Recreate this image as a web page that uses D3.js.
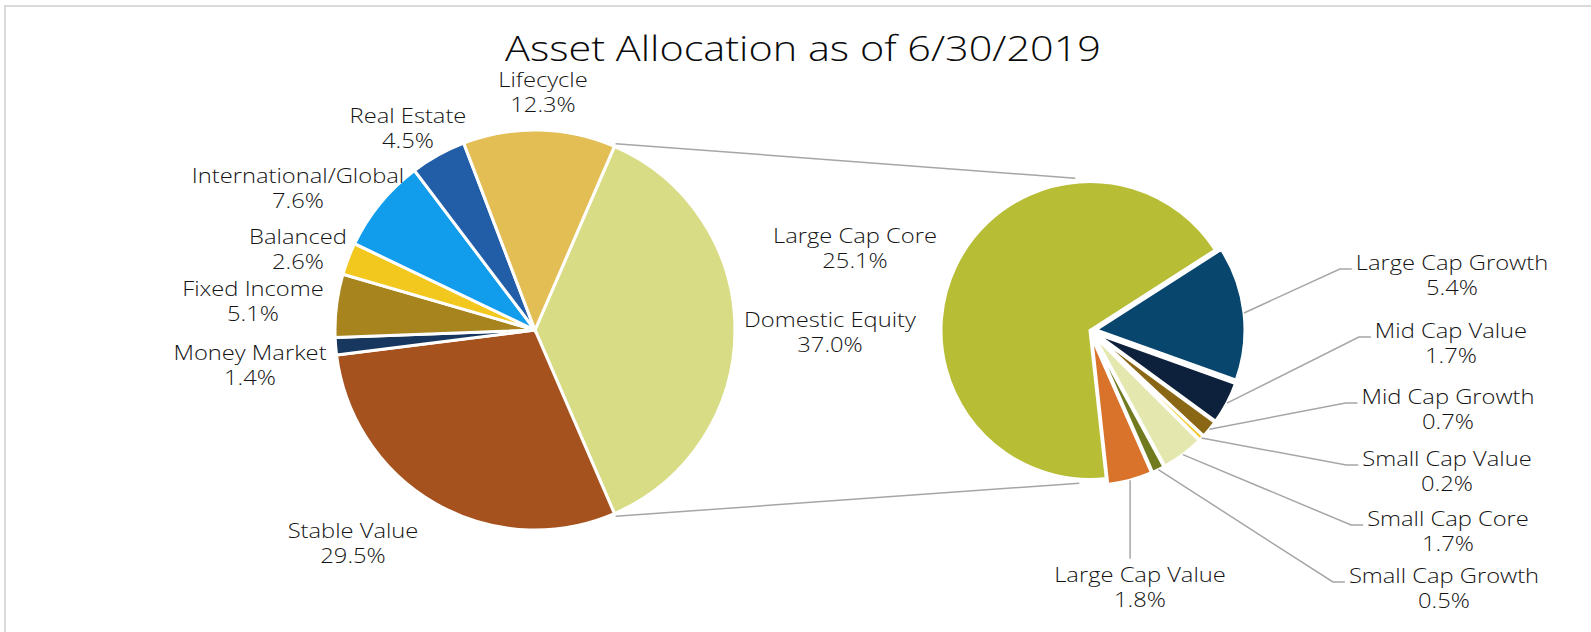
<!DOCTYPE html>
<html>
<head>
<meta charset="utf-8">
<script src="https://cdn.jsdelivr.net/npm/d3@7"></script>
<style>
  html, body { margin: 0; padding: 0; background: #fff; overflow: hidden; }
  svg { display: block; }
  text { font-family: "Open Sans", sans-serif; font-weight: 350; fill: #141414; }
  .title { font-weight: 300; fill: #0a0a0a; }
</style>
</head>
<body>
<svg id="chart" width="1591" height="632"></svg>
<script>
const title = "Asset Allocation as of 6/30/2019";

// first pie, clockwise from the split slice
const mainNames = ["Domestic Equity", "Stable Value", "Money Market", "Fixed Income",
  "Balanced", "International/Global", "Real Estate", "Lifecycle"];
const mainValues = [37.0, 29.5, 1.4, 5.1, 2.6, 7.6, 4.5, 12.3];
const mainColors = ["#d8dc84", "#a5521e", "#17375e", "#a8841e",
  "#f2c81f", "#129cec", "#225ea8", "#e3be55"];

// second pie = Domestic Equity broken out
const subNames = ["Large Cap Growth", "Mid Cap Value", "Mid Cap Growth", "Small Cap Value",
  "Small Cap Core", "Small Cap Growth", "Large Cap Value", "Large Cap Core"];
const subValues = [5.4, 1.7, 0.7, 0.2, 1.7, 0.5, 1.8, 25.1];
const subColors = ["#08466e", "#0d213c", "#8a6714", "#f2c61f",
  "#e5e8ae", "#717a1e", "#d9732c", "#b7bd35"];

// label anchors: centre x, baseline of first line, leader type
const labelAt = {
  "Lifecycle": [543, 87],
  "Real Estate": [408, 123],
  "International/Global": [298, 183],
  "Balanced": [298, 244],
  "Fixed Income": [253, 296],
  "Money Market": [250, 360],
  "Stable Value": [353, 538],
  "Domestic Equity": [830, 327],
  "Large Cap Core": [855, 243],
  "Large Cap Growth": [1452, 270, "left"],
  "Mid Cap Value": [1451, 338, "left"],
  "Mid Cap Growth": [1448, 404, "left"],
  "Small Cap Value": [1447, 466, "left"],
  "Small Cap Core": [1448, 526, "left"],
  "Small Cap Growth": [1444, 583, "left"],
  "Large Cap Value": [1140, 582, "top"]
};

const svg = d3.select("#chart");
const rad = deg => deg * Math.PI / 180;

// outer frame
svg.append("rect")
  .attr("x", 5).attr("y", 6).attr("width", 1700).attr("height", 700)
  .attr("fill", "none").attr("stroke", "#d9d9d9").attr("stroke-width", 2);

// the original face is wider, so stretch text to its widths
const labelSize = 20.5, titleSize = 35;
const probe = svg.append("text").style("font-size", labelSize + "px").text("Large Cap Core");
const labelSx = 164 / probe.node().getComputedTextLength();
probe.attr("class", "title").style("font-size", titleSize + "px").text(title);
const titleSx = 596 / probe.node().getComputedTextLength();
probe.remove();

svg.append("text")
  .attr("class", "title")
  .attr("transform", `translate(803,61) scale(${titleSx},1)`)
  .attr("text-anchor", "middle")
  .style("font-size", titleSize + "px")
  .text(title);

const c1 = [535, 330], r1 = 200;
const c2 = [1090, 330.5], r2 = 149;
const explode = 6;

const mainTotal = d3.sum(mainValues);
const splitAngle = 2 * Math.PI * mainValues[0] / mainTotal;
const mainPie = d3.pie().sort(null)
  .startAngle(Math.PI / 2 - splitAngle / 2)
  .endAngle(Math.PI / 2 - splitAngle / 2 + 2 * Math.PI);
const mainArcs = mainPie(mainValues)
  .map((a, i) => Object.assign(a, { name: mainNames[i], color: mainColors[i] }));

const subPie = d3.pie().sort(null).startAngle(rad(57.3)).endAngle(rad(57.3) + 2 * Math.PI);
const subArcs = subPie(subValues)
  .map((a, i) => Object.assign(a, { name: subNames[i], color: subColors[i] }));

// connector lines between the pies
const lineColor = "#a6a6a6";
const splitArc = mainArcs[0];
const conn = [
  [d3.pointRadial(splitArc.startAngle, r1 + 3), d3.pointRadial(rad(-5.5), r2 + 4)],
  [d3.pointRadial(splitArc.endAngle, r1 + 3), d3.pointRadial(rad(184), r2 + 4)]
];
svg.append("g").selectAll("line").data(conn).join("line")
  .attr("x1", d => c1[0] + d[0][0]).attr("y1", d => c1[1] + d[0][1])
  .attr("x2", d => c2[0] + d[1][0]).attr("y2", d => c2[1] + d[1][1])
  .attr("stroke", lineColor).attr("stroke-width", 1.5);

const arc1 = d3.arc().innerRadius(0).outerRadius(r1);
svg.append("g").attr("transform", `translate(${c1})`)
  .selectAll("path").data(mainArcs).join("path")
  .attr("d", arc1)
  .attr("fill", d => d.color)
  .attr("stroke", "#fff").attr("stroke-width", 3);

const arc2 = d3.arc().innerRadius(0).outerRadius(r2);
const shift = d3.arc().innerRadius(explode).outerRadius(explode);
const edge = d3.arc().innerRadius(r2).outerRadius(r2);
const isCore = d => d.name === "Large Cap Core";
svg.append("g").attr("transform", `translate(${c2})`)
  .selectAll("path").data(subArcs).join("path")
  .attr("transform", d => isCore(d) ? null : `translate(${shift.centroid(d)})`)
  .attr("d", arc2)
  .attr("fill", d => d.color)
  .attr("stroke", "#fff").attr("stroke-width", 3);

// labels
const labelG = svg.append("g");
function drawLabel(name, value) {
  const [x, y] = labelAt[name];
  const t = labelG.append("text")
    .attr("transform", `translate(${x},${y}) scale(${labelSx},1)`)
    .attr("text-anchor", "middle")
    .style("font-size", labelSize + "px");
  t.append("tspan").attr("x", 0).attr("y", 0).text(name);
  t.append("tspan").attr("x", 0).attr("y", 25.5).text(value.toFixed(1) + "%");
  return t;
}
mainArcs.forEach(d => drawLabel(d.name, d.value));

const leaderG = svg.append("g");
subArcs.forEach(d => {
  const t = drawLabel(d.name, d.value);
  const [lx, ly, kind] = labelAt[d.name];
  if (!kind) return;
  const box = t.node().getBBox();
  const left = lx + box.x * labelSx, top = ly + box.y;
  const p = edge.centroid(d), s = shift.centroid(d);
  const x0 = c2[0] + p[0] + s[0], y0 = c2[1] + p[1] + s[1];
  const pts = kind === "left"
    ? [[x0, y0], [left - 16, ly - 1], [left - 4, ly - 1]]
    : [[x0, y0], [x0, top - 1]];
  leaderG.append("path")
    .attr("d", d3.line()(pts))
    .attr("fill", "none")
    .attr("stroke", lineColor).attr("stroke-width", 1.5);
});
</script>
</body>
</html>
